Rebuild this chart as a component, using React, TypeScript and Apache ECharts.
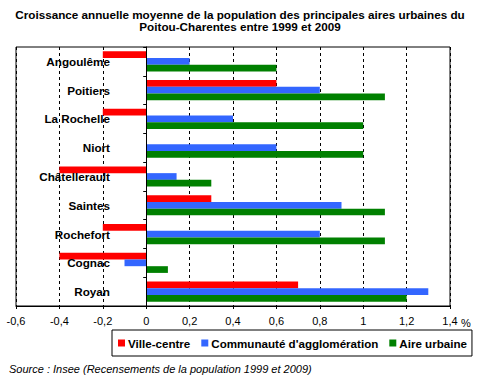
import React, { useEffect, useRef } from "react";
import * as echarts from "echarts";

const cities = ["Angoulême", "Poitiers", "La Rochelle", "Niort", "Châtellerault", "Saintes", "Rochefort", "Cognac", "Royan"];
const villeCentre = [-0.2, 0.6, -0.2, 0, -0.4, 0.3, -0.2, -0.4, 0.7];
const communaute = [0.2, 0.8, 0.4, 0.6, 0.14, 0.9, 0.8, -0.1, 1.3];
const aireUrbaine = [0.6, 1.1, 1.0, 1.0, 0.3, 1.1, 1.1, 0.1, 1.2];
const seriesNames = ["Ville-centre", "Communauté d'agglomération", "Aire urbaine"];
const seriesColors = ["#ff0000", "#3366ff", "#008000"];
const titleText = "Croissance annuelle moyenne de la population des principales aires urbaines du\nPoitou-Charentes entre 1999 et 2009";
const sourceText = "Source : Insee (Recensements de la population 1999 et 2009)";

const FONT = "'Liberation Sans', Arial, sans-serif";

export default function App() {
  const ref = useRef<HTMLDivElement>(null);
  useEffect(() => {
    if (!ref.current) return;
    const chart = echarts.init(ref.current, undefined, { renderer: "svg" });
    const values = [villeCentre, communaute, aireUrbaine];
    chart.setOption({
      animation: false,
      backgroundColor: "#ffffff",
      textStyle: { fontFamily: FONT },
      title: {
        text: titleText,
        left: "center",
        top: 8,
        padding: 0,
        textStyle: { fontSize: 11.7, fontWeight: "bold", color: "#000", lineHeight: 12.5, fontFamily: FONT },
      },
      grid: {
        left: 16,
        right: 30,
        top: 47,
        bottom: 80,
        show: true,
        borderColor: "#000",
        borderWidth: 1,
        containLabel: false,
        outerBoundsMode: "none",
      },
      legend: {
        data: seriesNames,
        left: 112,
        top: 330,
        padding: [7, 5, 7, 6],
        itemGap: 11,
        itemWidth: 7,
        itemHeight: 7,
        icon: "rect",
        borderColor: "#000",
        borderWidth: 1,
        textStyle: { fontSize: 11.6, fontWeight: "bold", color: "#000", fontFamily: FONT, padding: [0, 0, 0, -2] },
      },
      xAxis: {
        type: "value",
        min: -0.6,
        max: 1.4,
        interval: 0.2,
        axisLine: { show: true, lineStyle: { color: "#000", width: 1 } },
        axisTick: { show: true, length: 3, lineStyle: { color: "#000" } },
        splitLine: { show: true, lineStyle: { color: "#000", type: [3, 3], width: 1 } },
        axisLabel: {
          fontSize: 11,
          color: "#000",
          margin: 9,
          fontFamily: FONT,
          formatter: (v: number) => String(Math.round(v * 10) / 10).replace(".", ","),
        },
      },
      yAxis: {
        type: "category",
        inverse: true,
        data: cities,
        z: 5,
        axisLine: { show: true, onZero: true, lineStyle: { color: "#000", width: 1 } },
        axisTick: { show: true, length: 3, lineStyle: { color: "#000" } },
        splitLine: { show: false },
        axisLabel: { fontSize: 11.7, fontWeight: "bold", color: "#000", margin: -94, fontFamily: FONT },
      },
      graphic: [
        {
          type: "text",
          left: 461,
          top: 317,
          style: { text: "%", fontSize: 11, fill: "#000", fontFamily: FONT },
        },
        {
          type: "text",
          left: 9,
          top: 363,
          style: { text: sourceText, fontSize: 11, fontStyle: "italic", fill: "#000", fontFamily: FONT },
        },
      ],
      series: seriesNames.map((name, i) => ({
        name,
        type: "bar",
        data: values[i],
        barGap: "0%",
        barCategoryGap: "30%",
        itemStyle: { color: seriesColors[i] },
      })),
    });
    return () => chart.dispose();
  }, []);
  return <div ref={ref} style={{ position: "fixed", left: 0, top: 0, width: 480, height: 386 }} />;
}
